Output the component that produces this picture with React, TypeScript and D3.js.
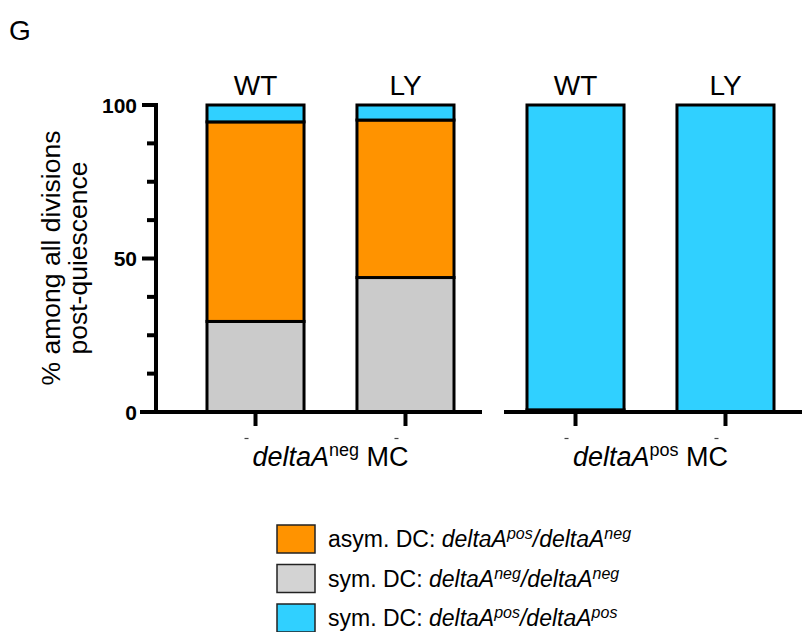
import React from "react";
import * as d3 from "d3";

const groups = ["deltaA_neg_MC", "deltaA_pos_MC"];
const conditions = ["WT", "LY"];
const seriesKeys = ["symNeg", "asym", "symPos"];
const seriesColors = ["#CBCBCB", "#FF9300", "#30D0FF"];
// values per group per condition: [symNeg, asym, symPos]
const negMC_WT = [29.5, 65.0, 5.5];
const negMC_LY = [43.8, 51.3, 4.9];
const posMC_WT = [0.7, 0, 99.3];
const posMC_LY = [0, 0, 100];
const yTicksMajor = [0, 50, 100];
const yTicksMinor = [12.5, 25, 37.5, 62.5, 75, 87.5];

const font = "Arial, 'Liberation Sans', Helvetica, sans-serif";

export default function App() {
  const y = d3.scaleLinear().domain([0, 100]).range([412, 105]);
  const panels = [
    { x: d3.scaleBand<string>().domain(conditions).range([180, 481]).paddingInner(0.353).paddingOuter(0.18), data: [negMC_WT, negMC_LY], axis: [140, 482], label: "neg" },
    { x: d3.scaleBand<string>().domain(conditions).range([500, 801]).paddingInner(0.353).paddingOuter(0.18), data: [posMC_WT, posMC_LY], axis: [504, 802], label: "pos" },
  ];
  const stack = d3.stack<number[]>().keys(seriesKeys.map((_, i) => String(i))).value((d, k) => d[+k]);

  const legendItems = [
    { color: seriesColors[1], pre: "asym. DC: ", a: "pos", b: "neg" },
    { color: "#D3D3D3", pre: "sym. DC: ", a: "neg", b: "neg" },
    { color: seriesColors[2], pre: "sym. DC: ", a: "pos", b: "pos" },
  ];

  return (
    <svg width={802} height={632} style={{ position: "absolute", left: 0, top: 0 }} fontFamily={font}>
      <rect width={802} height={632} fill="white" />
      <text x={9} y={40} fontSize={28}>G</text>

      {/* y axis title */}
      <g transform="translate(60,258) rotate(-90)">
        <text textAnchor="middle" fontSize={26.5} y={0}>% among all divisions</text>
        <text textAnchor="middle" fontSize={26.5} y={27}>post-quiescence</text>
      </g>

      {/* y axis */}
      <line x1={156} x2={156} y1={y(100) - 2} y2={y(0) + 2} stroke="black" strokeWidth={4} />
      {yTicksMajor.map((t) => (
        <g key={"M" + t}>
          <line x1={142} x2={156} y1={y(t)} y2={y(t)} stroke="black" strokeWidth={4} />
          <text x={137} y={y(t) + 7.5} textAnchor="end" fontSize={21} fontWeight="bold">{t}</text>
        </g>
      ))}
      {yTicksMinor.map((t) => (
        <line key={"m" + t} x1={147} x2={156} y1={y(t)} y2={y(t)} stroke="black" strokeWidth={4} />
      ))}

      {panels.map((p, pi) => {
        const stacked = stack(p.data);
        const cx = (c: string) => (p.x(c) as number) + p.x.bandwidth() / 2;
        const mid = (cx("WT") + cx("LY")) / 2;
        return (
          <g key={pi}>
            {conditions.map((c, ci) => (
              <g key={c}>
                {stacked.map((s, si) => {
                  const d = s[ci];
                  if (d[1] - d[0] <= 0) return null;
                  return (
                    <rect key={si} x={p.x(c)} width={p.x.bandwidth()} y={y(d[1])} height={y(d[0]) - y(d[1])}
                      fill={seriesColors[si]} stroke="black" strokeWidth={3} />
                  );
                })}
                <text x={cx(c)} y={95} textAnchor="middle" fontSize={28}>{c}</text>
                <line x1={cx(c)} x2={cx(c)} y1={412} y2={426} stroke="black" strokeWidth={4} />
                <line x1={cx(c) - 11} x2={cx(c) - 7} y1={438.5} y2={438.5} stroke="#444" strokeWidth={1.2} />
              </g>
            ))}
            <line x1={p.axis[0]} x2={p.axis[1]} y1={412} y2={412} stroke="black" strokeWidth={4} />
            <text x={mid} y={466} textAnchor="middle" fontSize={27}>
              <tspan fontStyle="italic">deltaA</tspan>
              <tspan fontSize={18} dy={-10}>{p.label}</tspan>
              <tspan dy={10}> MC</tspan>
            </text>
          </g>
        );
      })}

      {/* legend */}
      {legendItems.map((l, i) => {
        const yy = 525 + i * 39.5;
        return (
          <g key={i}>
            <rect x={277} y={yy} width={38} height={28} fill={l.color} stroke="#222" strokeWidth={1.5} />
            <text x={328} y={yy + 22} fontSize={23}>
              <tspan>{l.pre}</tspan>
              <tspan fontStyle="italic">deltaA</tspan>
              <tspan fontStyle="italic" fontSize={16} dy={-8}>{l.a}</tspan>
              <tspan fontStyle="italic" dy={8}>/deltaA</tspan>
              <tspan fontStyle="italic" fontSize={16} dy={-8}>{l.b}</tspan>
            </text>
          </g>
        );
      })}
    </svg>
  );
}
